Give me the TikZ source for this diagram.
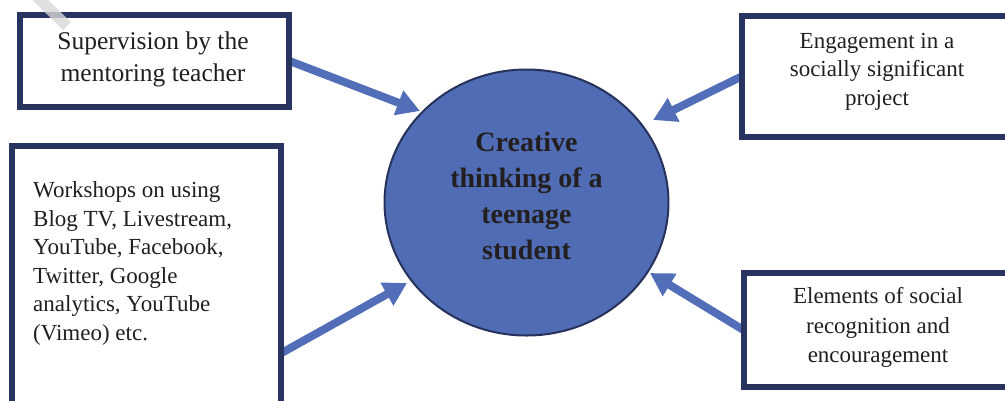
\documentclass[tikz,border=0pt]{standalone}
\usepackage{fontspec}
\setmainfont{Liberation Serif}
\usetikzlibrary{arrows.meta,shapes.geometric,backgrounds}
\definecolor{navy}{RGB}{40,52,96}
\definecolor{fillblue}{RGB}{80,108,180}
\definecolor{arrowblue}{RGB}{82,110,184}
\definecolor{ink}{RGB}{35,31,32}
\definecolor{rim}{RGB}{38,50,92}
\definecolor{smudge}{RGB}{216,216,216}

\begin{document}
\begin{tikzpicture}[x=1bp,y=-1bp,
  frame/.style={rectangle, draw=navy, line width=6bp, fill=white, inner sep=0, outer sep=0},
  label/.style={text=ink, inner sep=0, align=center},
  boxfont/.style={font=\fontsize{23bp}{28.6bp}\selectfont},
  feed/.style={draw=arrowblue, line width=8bp, -{Triangle[length=23bp,width=25bp]}},
]
\useasboundingbox (0,0) rectangle (1005,400);
\clip (0,0) rectangle (1005,400);

% surrounding boxes
\node[frame, minimum width=271, minimum height=92]  (sup) at (154.5,61)  {};
\node[frame, minimum width=271, minimum height=121] (eng) at (876.5,76.5) {};
\node[frame, minimum width=271, minimum height=265] (ws)  at (146.5,277.5) {};
\node[frame, minimum width=269, minimum height=114] (el)  at (877.5,330) {};

% box texts
\node[label, font=\fontsize{25.5bp}{32bp}\selectfont] (supt) at (153,59)
  {Supervision by the\\mentoring teacher};
\node[label, boxfont] (engt) at (877,71.5)
  {Engagement in a\\socially significant\\project};
\node[label, font=\fontsize{23bp}{29.5bp}\selectfont] (elt) at (878,327.5)
  {Elements of social\\recognition and\\encouragement};
\node[label, boxfont, align=left, anchor=west] (wst) at (33,263.5)
  {Workshops on using\\Blog TV, Livestream,\\YouTube, Facebook,\\Twitter, Google\\analytics, YouTube\\(Vimeo) etc.};

% light grey stroke at the top left corner
\draw[smudge, line width=11bp, opacity=0.8] (32,-8) -- (67,26);

\begin{scope}[on background layer]
  % central ellipse
  \node[ellipse, draw=rim, line width=2bp, fill=fillblue,
        minimum width=285, minimum height=267, inner sep=0] (core) at (526.5,202.5) {};
  \node[label, font=\fontsize{28bp}{36bp}\selectfont\bfseries] (coret) at (526.5,196)
    {Creative\\thinking of a\\teenage\\student};

  % arrow tips next to the ellipse
  \coordinate (t1) at (420,111);
  \coordinate (t2) at (653,120);
  \coordinate (t3) at (407,283);
  \coordinate (t4) at (650,273);

  \draw[feed] (sup.east) -- (t1);
  \draw[feed] (eng.west) -- (t2);
  \draw[feed] ([yshift=-75.5bp]ws.east) -- (t3);
  \draw[feed] (el.west) -- (t4);
\end{scope}
\end{tikzpicture}
\end{document}
